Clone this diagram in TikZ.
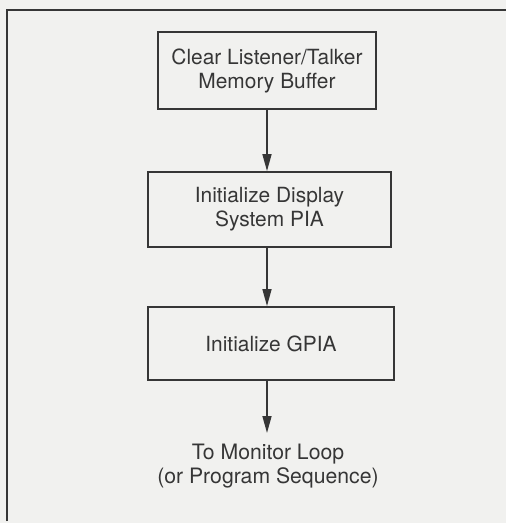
\documentclass[tikz,border=0pt]{standalone}
\usepackage{fontspec}
\setmainfont{TeX Gyre Heros}
\usetikzlibrary{arrows.meta}
\definecolor{ink}{HTML}{363636}
\definecolor{paper}{HTML}{F1F1EF}
\tikzset{
  stepbox/.style={draw=ink, line width=1.8pt, fill=paper, text=ink, align=center,
    inner sep=0pt, font=\fontsize{20.9}{24}\selectfont},
  flow/.style={draw=ink, line width=1.6pt, -{Triangle[length=17pt,width=9pt]}},
  plain/.style={text=ink, align=center, font=\fontsize{21.2}{24}\selectfont}
}
\begin{document}
\begin{tikzpicture}[x=1pt,y=-1pt]
\fill[paper] (0,0) rectangle (506,523);
\useasboundingbox (0,0) rectangle (506,523);
\coordinate (fl) at (7,521);
\coordinate (fc) at (7,10);
\coordinate (fr) at (506,10);
\draw[ink, line width=1.8pt] (fl) -- (fc) -- (fr);
\node[stepbox, minimum width=218pt, minimum height=77pt] (b1) at (267,70.5)
  {Clear Listener/Talker\\Memory Buffer};
\node[stepbox, minimum width=243pt, minimum height=75pt] (b2) at (269.5,209.5)
  {Initialize Display\\System PIA};
\node[stepbox, minimum width=246pt, minimum height=73pt] (b3) at (271,343.5)
  {Initialize GPIA};
\node[plain] (end) at (268,466) {To Monitor Loop\\(or Program Sequence)};
\coordinate (a3) at (267,433);
\draw[flow] (b1.south -| 267,0) -- (b2.north -| 267,0);
\draw[flow] (b2.south -| 267,0) -- (b3.north -| 267,0);
\draw[flow] (b3.south -| 267,0) -- (a3);
\end{tikzpicture}
\end{document}
